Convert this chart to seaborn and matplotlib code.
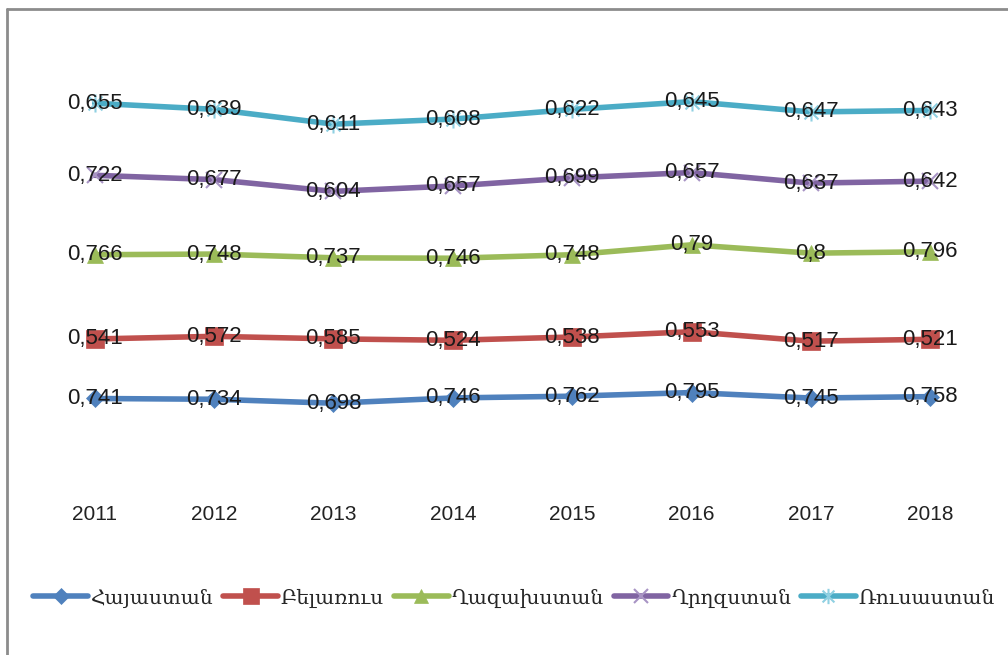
import matplotlib
matplotlib.use("Agg")
import numpy as np
import pandas as pd
import matplotlib.pyplot as plt
import seaborn as sns
from matplotlib.lines import Line2D
from matplotlib.path import Path

# Data (stacked line chart, values as shown on labels)
years = [2011, 2012, 2013, 2014, 2015, 2016, 2017, 2018]
countries = ["Հայաստան", "Բելառուս", "Ղազախստան", "Ղրղզստան", "Ռուսաստան"]
armenia = [0.741, 0.734, 0.698, 0.746, 0.762, 0.795, 0.745, 0.758]
belarus = [0.541, 0.572, 0.585, 0.524, 0.538, 0.553, 0.517, 0.521]
kazakhstan = [0.766, 0.748, 0.737, 0.746, 0.748, 0.79, 0.8, 0.796]
kyrgyzstan = [0.722, 0.677, 0.604, 0.657, 0.699, 0.657, 0.637, 0.642]
russia = [0.655, 0.639, 0.611, 0.608, 0.622, 0.645, 0.647, 0.643]
series = [armenia, belarus, kazakhstan, kyrgyzstan, russia]

# Excel-style star marker: an x with a vertical stroke
star = Path([(-1, -1), (1, 1), (-1, 1), (1, -1), (0, -1.3), (0, 1.3)],
            [Path.MOVETO, Path.LINETO, Path.MOVETO, Path.LINETO, Path.MOVETO, Path.LINETO])

colors = ["#4F81BD", "#C0504D", "#9BBB59", "#8064A2", "#4BACC6"]
marker_edge = ["#4F81BD", "#C0504D", "#9BBB59", "#A894C4", "#8FD0E2"]
markers = ["D", "s", "^", "x", star]
msizes = [9, 13, 12, 12, 13]
thin = [False, False, False, True, True]

sns.set_style("white")
plt.rcParams['font.family'] = ['Liberation Sans', 'DejaVu Sans']

fig = plt.figure(figsize=(10.08, 6.55), dpi=100)
W, H = 1008, 655
ax = fig.add_axes([35 / W, (H - 480) / H, 955 / W, 440 / H])

cum = np.zeros(len(years))
handles = []
for name, vals, c, me, m, ms, t in zip(countries, series, colors, marker_edge, markers, msizes, thin):
    cum = cum + np.array(vals)
    df = pd.DataFrame({"year": years, "value": cum})
    sns.lineplot(data=df, x="year", y="value", ax=ax, color=c, linewidth=4,
                 marker=m, markersize=ms, markerfacecolor=c, markeredgecolor=me,
                 markeredgewidth=1.5 if t else 0.5, zorder=2)
    for x, y, v in zip(years, cum, vals):
        txt = f"{v:g}".replace(".", ",")
        ax.text(x, y, txt, ha="center", va="center", fontsize=16,
                color="#1a1a1a", zorder=3)
    handles.append(Line2D([0], [0], color=c, linewidth=4, marker=m,
                          markersize=ms * 0.85, markerfacecolor=c, markeredgecolor=me,
                          markeredgewidth=1.5 if t else 0.5))

ax.set_xlim(2010.5, 2018.5)
ax.set_ylim(0, 4)
ax.set_xticks(years)
ax.set_xticklabels([str(y) for y in years], fontsize=15, color="#222222")
ax.set_yticks([])
ax.set_xlabel("")
ax.set_ylabel("")
ax.tick_params(axis="x", length=0, pad=18)
for s in ax.spines.values():
    s.set_visible(False)

leg = fig.legend(handles, countries, loc="center", bbox_to_anchor=(0.51, (H - 598) / H),
                 ncol=5, frameon=False, handlelength=2.7, handletextpad=0.15,
                 columnspacing=0.5, prop={"family": ["DejaVu Serif", "DejaVu Sans"], "size": 14.5})

# outer chart border (left and top)
fig.add_artist(Line2D([7 / W, 7 / W], [0, (H - 9) / H], color="#8c8c8c", linewidth=2,
                      transform=fig.transFigure))
fig.add_artist(Line2D([7 / W, 1], [(H - 9) / H, (H - 9) / H], color="#8c8c8c", linewidth=2,
                      transform=fig.transFigure))

fig.savefig("out.png", dpi=100)
